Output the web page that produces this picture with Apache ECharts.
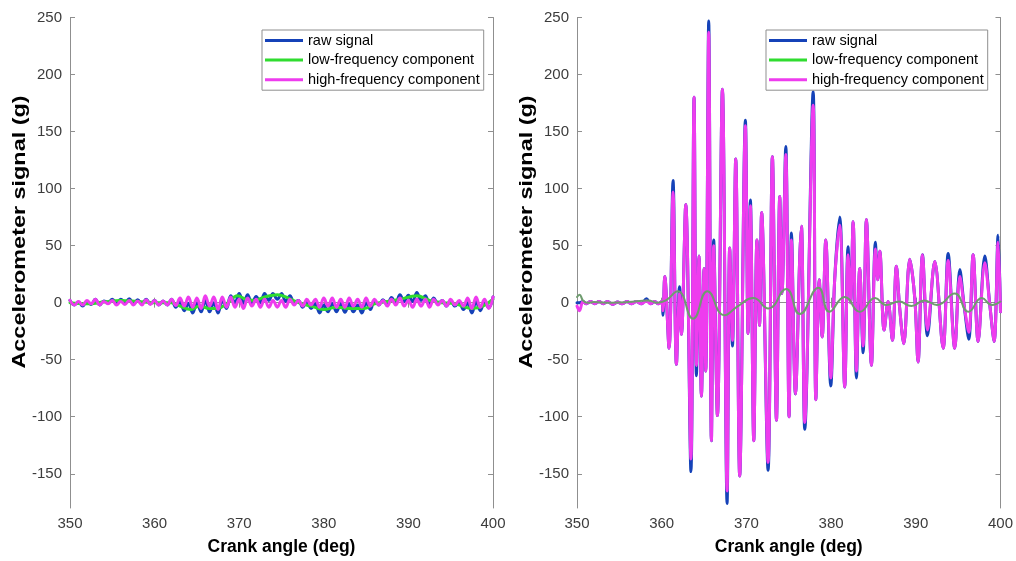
<!DOCTYPE html>
<html>
<head>
<meta charset="utf-8">
<script src="https://cdn.jsdelivr.net/npm/echarts@6/dist/echarts.min.js"></script>
<style>html,body{margin:0;padding:0;background:#fff}#c{width:1016px;height:561px}</style>
</head>
<body>
<div id="c"></div>
<script>
// ---------- data ----------
const seriesNames = ['raw signal', 'low-frequency component', 'high-frequency component'];
const xTicks = [350, 360, 370, 380, 390, 400];
const yTicks = [-150, -100, -50, 0, 50, 100, 150, 200, 250];

// Left panel: angles shared by raw and high-frequency curves
const leftAngles = [350,350.5,351,351.5,352,352.5,353,353.5,354,354.5,355,355.5,356,356.5,357,357.5,358,358.5,359,359.5,
  360,360.5,361,361.5,362,362.5,363,363.5,364,364.5,365,365.5,366,366.5,367,367.5,368,368.5,369,369.5,
  370,370.5,371,371.5,372,372.5,373,373.5,374,374.5,375,375.5,376,376.5,377,377.5,378,378.5,379,379.5,
  380,380.5,381,381.5,382,382.5,383,383.5,384,384.5,385,385.5,386,386.5,387,387.5,388,388.5,389,389.5,
  390,390.5,391,391.5,392,392.5,393,393.5,394,394.5,395,395.5,396,396.5,397,397.5,398,398.5,399,399.5,400];
const leftHigh = [2,-2,1,-2,2,-1,3,-2,1,-1,2,-2,1,-1.5,2,-2,1.5,-2,2.5,-1.5,
  2,-2,1.5,-2,3,-2.5,4,-3,5,-4,4,-5,6,-3,5,-6,5,-4,5,-4,
  3,-5,4,-3,3,-4,3,-4,2,-4,2,-4,3,-2,2,-3,3,-2,3,-4,
  4,-3,4,-4,3,-4,4,-3,3,-4,4,-3,3,-2,2,-3,3,-2,4,-3,
  2,-4,3,-3,3,-4,3,-2,2,-3,3,-2,2,-3,4,-5,5,-4,3,-5,5];
const leftRaw = [2,-2,0.5,-3,1,-1.5,3,-2,1.5,0,3,-0.5,3,0,3.5,-1,2.5,-1,3,-1,
  2,-2,1.5,-2,3,-4,1,-7,-0.5,-9,0,-8,2,-8,0,-9,2,-5,6,0,
  8,-0.5,7,-1,5.5,0,8,2,8,3,8,1,6,0,2,-4,1,-5,-1,-9,
  -2,-8,-0.5,-8,-1,-8.5,-1,-8,-2,-9,0,-6,2,-2,2.5,-2,4.5,0,7,1,
  6.5,1,9,2,6,-2,4,-1,2,-3,2,-3,0,-6,0,-9,1,-7,1,-4.5,5];
const leftLowAngles = [350,352,354,356,358,360,362,363,364.3,365.3,366.5,367.5,368.5,369.8,370.8,371.8,373,374.5,375.8,377,
  378.5,380,381.5,383,384.8,386,387.5,389,391,392.5,394,395.5,397.5,398.8,400];
const leftLow = [0,-1,0.5,2,1,0,0,-3,-6,-3,-5,-5,-1,6,3,2,5,7,4,0,
  -3,-6,-4,-5,-5,-1,1,3,6,2,0,-1,-5,-3,3];

// Right panel: angles shared by raw and high-frequency curves
const rightAngles = [350,350.3,350.7,351.1,351.6,352.1,352.6,353.1,353.6,354.2,354.8,355.3,355.9,356.4,357,357.6,358.2,358.7,359.2,359.6,
  360,360.15,360.36,360.87,361.34,361.74,362.1,362.33,362.84,363.45,363.82,364.1,364.41,364.69,365,365.2,365.55,365.87,366.14,366.58,
  367.17,367.72,368.03,368.35,368.74,369.21,369.88,370.2,370.47,370.87,371.25,371.55,371.8,372.56,373.07,373.55,373.94,374.2,374.65,375.04,
  375.32,375.79,376.3,376.5,376.89,377.88,378.2,378.6,378.95,379.37,379.96,380.43,381.02,381.61,382,382.3,382.6,382.99,383.38,383.78,
  384.17,384.76,385.23,385.5,385.75,386.26,386.73,387.24,387.71,388.1,388.58,389.29,389.88,390.27,390.79,391.38,392.24,393.23,393.82,394.6,
  395.2,395.7,396.26,396.77,397.36,398.15,398.74,399.25,399.72,400];
const rightHigh = [-3,-7,1,-1,1,-1,1,-1,1,-1.5,0.5,-1,1,-1,1,-1,1.5,-1,1,-1,
  1,-7,23,-40,97,-54,8,-28,86,-137,180,-55,41,-82,30,-60,237,-121,50,-99,
  187,-165,48,-33,126,-152,155,-27,85,-121,55,-20,79,-140,128,-103,93,8,130,-100,
  55,-80,40,67,-105,173,-85,20,-30,55,-66,21,68,-74,42,0,71,-60,30,-38,
  73,-55,47,20,45,-24,1,-33,32,-5,-36,38,4,-52,42,-24,36,-40,37,-40,
  23,-2,-26,42,-34,35,-2,-34,53,-8];
const rightRaw = [0,0,1,-1,1,-1,1,-1,1,-1.5,0.5,-1,1,-1,1,-1,3.5,-1,1,-1,
  1,-11,23,-40,107,-54,14,-28,86,-148,180,-64,41,-82,30,-60,247,-121,55,-99,
  187,-176,48,-38,126,-152,160,-27,90,-121,55,-20,79,-147,128,-103,93,8,137,-100,
  61,-80,40,67,-111,185,-85,20,-30,55,-73,21,75,-74,49,0,71,-66,30,-44,
  73,-55,53,20,45,-24,1,-33,32,-5,-36,38,4,-52,42,-29,36,-40,43,-40,
  29,-2,-32,42,-34,41,-2,-34,59,-8];
const rightLowAngles = [350,350.3,350.7,351.2,352,354,356,358.4,359.5,360.5,361.9,363.7,365.4,367.4,369,370.8,372.6,374.7,376.3,378.5,
  379.8,381.6,383.4,385.2,386.5,388,389.5,391,392.5,394.6,396.2,397.8,399,400];
const rightLow = [5,7,2,0,0.5,0,0.5,2,0,2,10,-14,10,-11,-3,4,-5,12,-10,13,
  -8,5,-8,4,-2,1,-3,2,-2,8,-8,4,-2,1];

// ---------- helpers ----------
const pair = (xs, ys) => xs.map((x, i) => [x, ys[i]]);
const FONT = '"Liberation Sans", Arial, sans-serif';
const C_RAW = '#1542b8', C_LOW = '#2fdc2f', C_HIGH = '#ee3cee', C_LOW_R = '#6f9c6f';
const AXIS_C = '#8f8f8f', LABEL_C = '#3c3c3c';

const grids = [
  {left: 70, top: 17.5, width: 423, height: 493.5},
  {left: 577, top: 17.5, width: 423.5, height: 493.5}
];

const xAxes = [], yAxes = [];
grids.forEach((g, gi) => {
  xAxes.push({
    gridIndex: gi, type: 'value', min: 350, max: 400, interval: 10, position: 'bottom',
    name: 'Crank angle (deg)', nameLocation: 'middle', nameGap: 30,
    nameTextStyle: {fontFamily: FONT, fontWeight: 'bold', fontSize: 17.5, color: '#000'},
    axisLine: {lineStyle: {color: AXIS_C, width: 1}},
    axisTick: {inside: true, length: 5, lineStyle: {color: AXIS_C}},
    axisLabel: {margin: 8, fontFamily: FONT, fontSize: 15, color: LABEL_C},
    splitLine: {show: false}
  });
  xAxes.push({
    gridIndex: gi, type: 'value', min: 350, max: 400, interval: 10, position: 'top',
    axisLine: {show: true, lineStyle: {color: AXIS_C, width: 1}},
    axisTick: {show: true, inside: true, length: 5, lineStyle: {color: AXIS_C}},
    axisLabel: {show: false}, splitLine: {show: false}
  });
  yAxes.push({
    gridIndex: gi, type: 'value', min: -180, max: 250, position: 'left',
    axisLine: {show: true, lineStyle: {color: AXIS_C, width: 1}},
    axisTick: {show: true, inside: true, length: 5, lineStyle: {color: AXIS_C}, customValues: yTicks},
    axisLabel: {margin: 8, fontFamily: FONT, fontSize: 15, color: LABEL_C, customValues: yTicks},
    splitLine: {show: false}
  });
  yAxes.push({
    gridIndex: gi, type: 'value', min: -180, max: 250, position: 'right',
    axisLine: {show: true, lineStyle: {color: AXIS_C, width: 1}},
    axisTick: {show: true, inside: true, length: 5, lineStyle: {color: AXIS_C}, customValues: yTicks},
    axisLabel: {show: false}, splitLine: {show: false}
  });
});

function line(name, data, gi, color, lineColor, width, z, smooth) {
  return {
    type: 'line', name: name, data: data, xAxisIndex: gi * 2, yAxisIndex: gi * 2,
    showSymbol: false, symbol: 'none', smooth: smooth, z: z, animation: false,
    itemStyle: {color: color},
    lineStyle: {color: lineColor, width: width, join: 'round', cap: 'round'},
    emphasis: {disabled: true}
  };
}

const series = [
  line(seriesNames[0], pair(leftAngles, leftRaw), 0, C_RAW, C_RAW, 3, 2, 0.4),
  line(seriesNames[1], pair(leftLowAngles, leftLow), 0, C_LOW, C_LOW, 3, 3, 0.4),
  line(seriesNames[2], pair(leftAngles, leftHigh), 0, C_HIGH, C_HIGH, 3, 4, 0.4),
  line(seriesNames[0], pair(rightAngles, rightRaw), 1, C_RAW, C_RAW, 3, 2, 0.35),
  line(seriesNames[1], pair(rightLowAngles, rightLow), 1, C_LOW, C_LOW_R, 2, 5, 0.5),
  line(seriesNames[2], pair(rightAngles, rightHigh), 1, C_HIGH, C_HIGH, 3, 4, 0.35)
];

const legendItems = [
  {name: seriesNames[0], itemStyle: {color: C_RAW}},
  {name: seriesNames[1], itemStyle: {color: C_LOW}},
  {name: seriesNames[2], itemStyle: {color: C_HIGH}}
];
function legend(left) {
  return {
    left: left, top: 30, orient: 'vertical', icon: 'rect', itemWidth: 38, itemHeight: 3,
    itemGap: 4.6, padding: [3, 4, 3, 3], borderColor: AXIS_C, borderWidth: 1, backgroundColor: '#fff',
    selectedMode: false, z: 10,
    textStyle: {fontFamily: FONT, fontSize: 14.5, lineHeight: 15, color: '#000'},
    data: legendItems
  };
}

const yName = (x) => ({
  type: 'text', x: x, y: 232, rotation: Math.PI / 2, scaleX: 1.3, z: 10,
  style: {text: 'Accelerometer signal (g)', font: 'bold 18px ' + FONT, fill: '#000',
          textAlign: 'center', textVerticalAlign: 'middle'}
});

const chart = echarts.init(document.getElementById('c'), null, {renderer: 'canvas'});
chart.setOption({
  backgroundColor: '#fff',
  animation: false,
  grid: grids,
  xAxis: xAxes,
  yAxis: yAxes,
  legend: [legend(262), legend(766)],
  graphic: [yName(20), yName(527)],
  series: series
});
</script>
</body>
</html>
